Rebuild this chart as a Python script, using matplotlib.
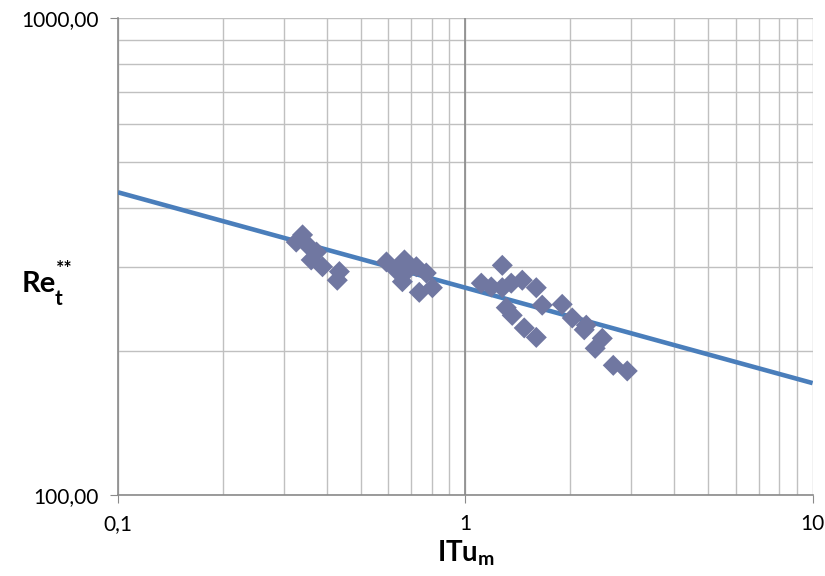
import matplotlib.pyplot as plt
from matplotlib.ticker import FixedLocator, LogLocator, NullFormatter

# data
itu = [0.326, 0.340, 0.356, 0.373, 0.360, 0.388, 0.434, 0.428,
       0.593, 0.633, 0.668, 0.676, 0.659, 0.723, 0.772, 0.737, 0.804, 0.690,
       1.278, 1.112, 1.188, 1.278, 1.356, 1.459, 1.601, 1.312, 1.365, 1.478,
       1.601, 1.665, 1.901, 2.032, 2.230, 2.200, 2.480, 2.366, 2.667, 2.926]
ret = [339, 351, 331, 323, 311, 301, 294, 282,
       308, 296, 311, 294, 280, 301, 292, 266, 272, 303,
       303, 278, 273, 272, 278, 282, 272, 247, 238, 224,
       214, 250, 251, 235, 227, 222, 213, 203, 187, 182]

# trend line  Re = a * ITu^b
a_fit = 272
b_fit = -0.2
x_fit = [0.1, 10]
y_fit = [a_fit * x ** b_fit for x in x_fit]

plt.rcParams['font.family'] = ['Lato', 'DejaVu Sans']
plt.rcParams['mathtext.fontset'] = 'custom'
plt.rcParams['mathtext.rm'] = 'Lato'
plt.rcParams['mathtext.bf'] = 'Lato:bold'

fig = plt.figure(figsize=(8.25, 5.76), dpi=100)
ax = fig.add_axes([0.143, 0.1406, 0.842, 0.8282])
ax.set_xscale('log')
ax.set_yscale('log')
ax.set_xlim(0.1, 10)
ax.set_ylim(100, 1000)

ax.xaxis.set_major_locator(FixedLocator([0.1, 1, 10]))
ax.yaxis.set_major_locator(FixedLocator([100, 1000]))
ax.xaxis.set_minor_locator(LogLocator(base=10, subs=range(2, 10)))
ax.yaxis.set_minor_locator(LogLocator(base=10, subs=range(2, 10)))
ax.xaxis.set_minor_formatter(NullFormatter())
ax.yaxis.set_minor_formatter(NullFormatter())
ax.set_xticklabels(['0,1', '1', '10'])
ax.set_yticklabels(['100,00', '1000,00'])

ax.grid(True, which='both', color='#c0c0c0', lw=1)
ax.axvline(1, color='#8a8a8a', lw=1.2, zorder=1)
ax.set_axisbelow(True)

ax.tick_params(which='major', length=6, color='#8a8a8a', labelsize=15, pad=8)
ax.tick_params(which='minor', length=0)
for s in ['top', 'right']:
    ax.spines[s].set_visible(False)
for s in ['left', 'bottom']:
    ax.spines[s].set_color('#8a8a8a')
    ax.spines[s].set_linewidth(1.2)

ax.plot(x_fit, y_fit, color='#4a7ebb', lw=3.3, zorder=3, solid_capstyle='butt')
ax.scatter(itu, ret, marker='D', s=115, color='#7077a1', edgecolors='none', zorder=4)

# y label  Re_t^**
fig.text(0.026, 0.493, 'Re', fontsize=21, fontweight='bold', ha='left', va='baseline')
fig.text(0.066, 0.470, 't', fontsize=15, fontweight='bold', ha='left', va='baseline')
fig.text(0.068, 0.548, '**', fontsize=14, fontweight='bold', ha='left', va='top')
# x label
fig.text(0.565, 0.04, r'$\mathbf{ITu_m}$', fontsize=20, ha='center', va='center')

fig.savefig('out.png', dpi=100)
